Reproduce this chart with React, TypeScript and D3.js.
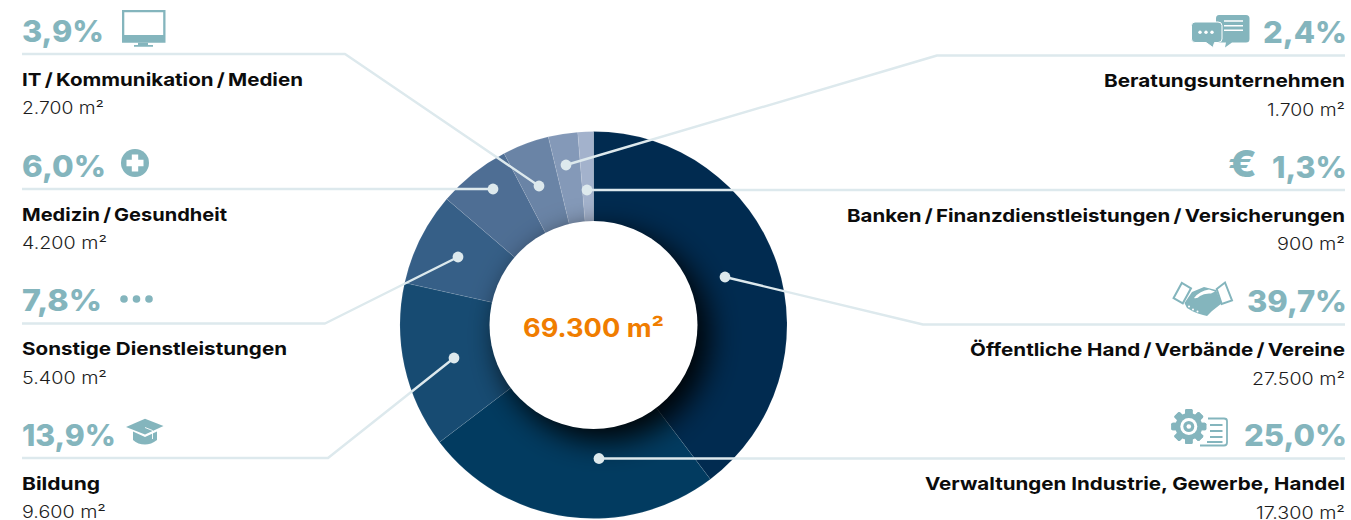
import React from "react";
import * as d3 from "d3";

// Floor space by tenant sector, clockwise from twelve o'clock
const sectors = [
  "Öffentliche Hand\u2009/\u2009Verbände\u2009/\u2009Vereine",
  "Verwaltungen Industrie, Gewerbe, Handel",
  "Bildung",
  "Sonstige Dienstleistungen",
  "Medizin\u2009/\u2009Gesundheit",
  "IT\u2009/\u2009Kommunikation\u2009/\u2009Medien",
  "Beratungsunternehmen",
  "Banken\u2009/\u2009Finanzdienstleistungen\u2009/\u2009Versicherungen",
];
const areas = [27500, 17300, 9600, 5400, 4200, 2700, 1700, 900];
const shares = ["39,7%", "25,0%", "13,9%", "7,8%", "6,0%", "3,9%", "2,4%", "1,3%"];
const totalLabel = "69.300 m²";
const sliceColors = ["#012b50", "#023b60", "#174b72", "#365f87", "#4e6e94", "#6a84a6", "#8499b8", "#a3b2cc"];

// Callout geometry: side, rule baseline, knee x (null = straight), dot, text widths
type Callout = { side: "l" | "r"; y: number; knee: number | null; dot: [number, number]; wPct: number; wName: number; wVal: number };
const callouts: Callout[] = [
  { side: "r", y: 324.5, knee: 923, dot: [725, 277], wPct: 100, wName: 375, wVal: 93 },
  { side: "r", y: 458.5, knee: null, dot: [599, 458.5], wPct: 103, wName: 420, wVal: 89 },
  { side: "l", y: 458, knee: 328, dot: [454, 358], wPct: 94, wName: 78, wVal: 84 },
  { side: "l", y: 323.5, knee: 325, dot: [458, 257], wPct: 80, wName: 265, wVal: 85 },
  { side: "l", y: 189, knee: null, dot: [493, 189], wPct: 84, wName: 205, wVal: 85 },
  { side: "l", y: 54, knee: 345, dot: [539, 186], wPct: 82, wName: 281, wVal: 82 },
  { side: "r", y: 55.5, knee: 937, dot: [566, 165], wPct: 84, wName: 241, wVal: 78 },
  { side: "r", y: 190, knee: null, dot: [587, 190], wPct: 75, wName: 498, wVal: 68 },
];

const cx = 593.5;
const cy = 325;
const outerR = 193.5;
const innerR = 104;
const teal = "#84b5bd";
const rule = "#dde9ed";
const font = "Inter, 'Open Sans', sans-serif";
const LEFT = 22;
const RIGHT = 1345;

const pie = d3.pie<number>().sort(null).value((d) => d);
const arc = d3.arc<d3.PieArcDatum<number>>().innerRadius(innerR - 2).outerRadius(outerR);
const fmt = (n: number) => d3.format(",")(n).replace(/,/g, ".") + " m²";

function Gear() {
  const gx = 1188.8;
  const gy = 426.5;
  return (
    <g fill={teal}>
      {d3.range(8).map((i) => (
        <rect key={i} x={gx - 3.8} y={gy - 17.5} width={7.6} height={35} rx={1.5} transform={`rotate(${i * 45} ${gx} ${gy})`} />
      ))}
      <circle cx={gx} cy={gy} r={13.5} />
      <circle cx={gx} cy={gy} r={8.5} fill="#fff" />
      <circle cx={gx} cy={gy} r={5.5} />
      <circle cx={gx} cy={gy} r={2.3} fill="#fff" />
      <path d="M1200 445.5H1224Q1227 445.5 1227 442.5V421Q1227 418.5 1224 418.5H1208" fill="none" stroke={teal} strokeWidth={1.8} />
      <path d="M1210 425H1222.5M1210 431H1222.5M1210 437H1222.5M1207 442H1222.5" fill="none" stroke={teal} strokeWidth={1.8} />
    </g>
  );
}

function Handshake() {
  return (
    <g>
      <path d="M1173.6 298L1181.8 283L1191 288.3L1182.8 303.3Z" fill="none" stroke={teal} strokeWidth={2} />
      <path d="M1216.7 289L1225 282.5L1232 300.5L1221.7 304Z" fill="none" stroke={teal} strokeWidth={2} />
      <path d="M1192 292L1204 287L1216 290L1221.5 303.5L1212 311L1207 316L1203 315L1198 313.5L1193 311.5L1187 308L1184.5 303Z" fill={teal} />
      <path d="M1194 298Q1200 290.5 1209 289.5L1215 291.5L1211 293.5Q1204 293 1200 296Q1197 299 1194 298Z" fill="#fff" />
      <circle cx={1189} cy={306.5} r={1} fill="#fff" />
      <circle cx={1193} cy={309.5} r={1} fill="#fff" />
      <circle cx={1197.5} cy={311.5} r={1} fill="#fff" />
    </g>
  );
}

function Chat() {
  return (
    <g>
      <path d="M1219 15H1246Q1249.5 15 1249.5 18.5V39Q1249.5 42.5 1246 42.5H1232L1225 47.5L1226 42.5H1219Q1216 42.5 1216 39V18.5Q1216 15 1219 15Z" fill={teal} />
      <path d="M1224 21H1243M1224 25.7H1243M1224 30.2H1243" stroke="#fff" strokeWidth={1.4} />
      <path d="M1195 22H1218Q1222 22 1222 25.5V39Q1222 42.5 1218 42.5H1214.5L1213 47.5L1206 42.5H1195Q1191.5 42.5 1191.5 39V25.5Q1191.5 22 1195 22Z" fill={teal} stroke="#fff" strokeWidth={1} />
      <circle cx={1200} cy={32.3} r={1.7} fill="#fff" />
      <circle cx={1206} cy={32.3} r={1.7} fill="#fff" />
      <circle cx={1212} cy={32.3} r={1.7} fill="#fff" />
    </g>
  );
}

function Monitor() {
  return (
    <g fill={teal}>
      <path fillRule="evenodd" d="M122 10H165.5V42.7H122ZM124.3 12.3V35H163.2V12.3Z" />
      <path d="M138 42.7H148V45H153V46.8H134V45H138Z" />
    </g>
  );
}

function Plus() {
  return (
    <g>
      <circle cx={135} cy={163} r={14} fill={teal} />
      <path d="M135 154.5V171.5M126.5 163H143.5" stroke="#fff" strokeWidth={6.4} />
    </g>
  );
}

function Dots() {
  return (
    <g fill={teal}>
      <circle cx={124} cy={299} r={3.8} />
      <circle cx={136.5} cy={299} r={3.8} />
      <circle cx={149} cy={299} r={3.8} />
    </g>
  );
}

function Hat() {
  return (
    <g fill={teal}>
      <path d="M126 427L145 418.8L163.5 426L145 434.5Z" />
      <path d="M133 431.5L145 437L157 431.5V440Q151 444.5 145 444.5Q138 444.5 133 440Z" />
      <path d="M145 427.5L152.5 430.5V439" fill="none" stroke="#fff" strokeWidth={0.9} />
    </g>
  );
}

function Euro() {
  return (
    <text x={1228} y={177} fontFamily={font} fontWeight={800} fontSize={37} fill={teal} textLength={29} lengthAdjust="spacingAndGlyphs">
      €
    </text>
  );
}

const icons = [Handshake, Gear, Hat, Dots, Plus, Monitor, Chat, Euro];

export default function App() {
  const slices = pie(areas);
  return (
    <svg width={1351} height={520} viewBox="0 0 1351 520" style={{ position: "absolute", left: 0, top: 0, display: "block" }}>
      <defs>
        <filter id="holeShadow" x="-50%" y="-50%" width="200%" height="200%">
          <feGaussianBlur stdDeviation={15} />
        </filter>
        <clipPath id="ringClip">
          <circle cx={cx} cy={cy} r={outerR} />
        </clipPath>
      </defs>

      <g transform={`translate(${cx},${cy})`}>
        {slices.map((s, i) => (
          <path key={i} d={arc(s) ?? ""} fill={sliceColors[i]} stroke="#ffffff" strokeOpacity={0.14} strokeWidth={0.6} />
        ))}
      </g>

      {/* soft shadow cast by the centre disc onto the ring */}
      <g clipPath="url(#ringClip)">
        <circle cx={cx + 11} cy={cy + 11} r={innerR + 1} fill="#000" fillOpacity={0.95} filter="url(#holeShadow)" />
      </g>
      <circle cx={cx} cy={cy} r={innerR} fill="#fff" />

      <text x={cx} y={337} textAnchor="middle" fontFamily={font} fontWeight={700} fontSize={25} fill="#f07d00" textLength={141} lengthAdjust="spacingAndGlyphs">
        {totalLabel}
      </text>

      {callouts.map((c, i) => {
        const edge = c.side === "l" ? LEFT : RIGHT;
        const anchor = c.side === "l" ? "start" : "end";
        const pts: [number, number][] = [[edge, c.y]];
        if (c.knee !== null) pts.push([c.knee, c.y]);
        pts.push(c.dot);
        const Icon = icons[i];
        return (
          <g key={sectors[i]}>
            <path d={d3.line()(pts) ?? ""} fill="none" stroke={rule} strokeWidth={2.4} strokeLinejoin="round" />
            <circle cx={c.dot[0]} cy={c.dot[1]} r={5.4} fill={rule} />
            <text x={c.side === "l" ? edge : edge + 2} y={c.y - 12.5} textAnchor={anchor} fontFamily={font} fontWeight={800} fontSize={30} fill={teal} textLength={c.wPct} lengthAdjust="spacingAndGlyphs">
              {shares[i]}
            </text>
            <Icon />
            <text x={edge} y={c.y + 31.5} textAnchor={anchor} fontFamily={font} fontWeight={700} fontSize={18} fill="#0c0c0c" textLength={c.wName} lengthAdjust="spacingAndGlyphs">
              {sectors[i]}
            </text>
            <text x={edge} y={c.y + 60} textAnchor={anchor} fontFamily={font} fontWeight={300} fontSize={17} fill="#1c1c1c" textLength={c.wVal} lengthAdjust="spacingAndGlyphs">
              {fmt(areas[i])}
            </text>
          </g>
        );
      })}
    </svg>
  );
}
